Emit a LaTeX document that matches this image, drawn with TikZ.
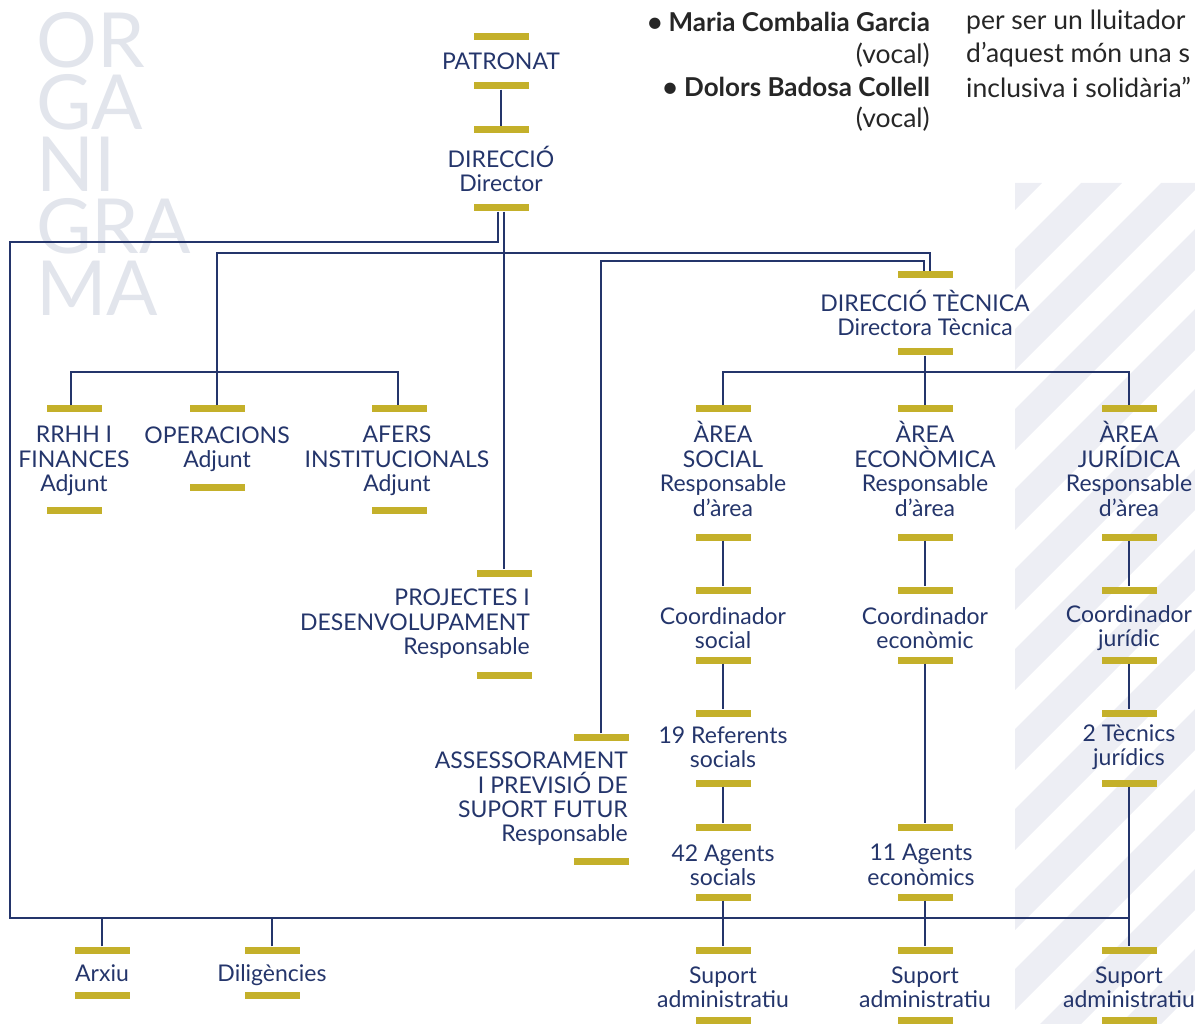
\documentclass[tikz,border=0pt]{standalone}
\usepackage{fontspec}
\setmainfont{Lato}
\usetikzlibrary{positioning}
\definecolor{navy}{HTML}{24356B}
\definecolor{gold}{HTML}{C4B02A}
\definecolor{haze}{HTML}{E2E5EC}
\definecolor{stripe}{HTML}{EDEEF4}
\definecolor{ink}{HTML}{262626}
\tikzset{
  goldbar/.style={fill=gold, minimum width=55pt, minimum height=7pt, inner sep=0pt},
  lbl/.style={text=navy, align=center, font=\fontsize{23}{24.4}\selectfont, inner sep=0pt},
  toptext/.style={text=ink, inner sep=0pt, font=\fontsize{26.5}{30}\selectfont},
  link/.style={draw=navy, line width=2.8pt},
}
\begin{document}
\begin{tikzpicture}[x=1pt, y=-1pt]
\useasboundingbox (0,0) rectangle (1195,1024);
% stripes
\begin{scope}
\clip (1015,183) rectangle (1195,1024);
\foreach \k in {0,...,14}
  \fill[stripe] (1001+80*\k,183) -- ++(41,0) -- ++(-900,900) -- ++(-41,0) -- cycle;
\end{scope}
\node[anchor=north west, text=haze, inner sep=0pt, align=left, font=\fontsize{76}{62}\selectfont] (wm) at (36,12) {OR\\GA\\NI\\GRA\\MA};
% top texts
\node[toptext, anchor=east, font=\fontsize{26}{30}\selectfont\bfseries] (nm1) at (930,22) {• Maria Combalia Garcia};
\node[toptext, anchor=east] (vc1) at (930,55) {(vocal)};
\node[toptext, anchor=east, font=\fontsize{26}{30}\selectfont\bfseries] (nm2) at (930,87) {• Dolors Badosa Collell};
\node[toptext, anchor=east] (vc2) at (930,119) {(vocal)};
\node[toptext, anchor=west] (q1) at (966,22) {per ser un lluitador};
\node[toptext, anchor=west] (q2) at (966,55) {d’aquest món una s};
\node[toptext, anchor=west] (q3) at (966,87) {inclusiva i solidària”};
% patronat, direccio
\node[goldbar] (patT) at (501,37) {};
\node[lbl] (pat) at (501,61) {PATRONAT};
\node[goldbar] (patB) at (501,86) {};
\node[goldbar] (dirT) at (501,130) {};
\node[lbl] (dir) at (501,169) {DIRECCIÓ\\Director};
\node[goldbar] (dirB) at (501,208) {};
% left group
\node[goldbar] (rrT) at (74,409) {};
\node[lbl] (rr) at (74,461) {RRHH I\\FINANCES\\Adjunt};
\node[goldbar] (rrB) at (74,510) {};
\node[goldbar] (opT) at (217,409) {};
\node[lbl] (op) at (217,449) {OPERACIONS\\Adjunt};
\node[goldbar] (opB) at (217,487) {};
\node[goldbar] (afT) at (399,409) {};
\node[lbl] (af) at (397,461) {AFERS\\INSTITUCIONALS\\Adjunt};
\node[goldbar] (afB) at (399,510) {};
\node[goldbar] (prT) at (504,573) {};
\node[lbl, align=right, anchor=east] (pr) at (530,624) {PROJECTES I\\DESENVOLUPAMENT\\Responsable};
\node[goldbar] (prB) at (504,675) {};
\node[goldbar] (asT) at (601,737) {};
\node[lbl, align=right, anchor=east] (as) at (628,799) {ASSESSORAMENT\\I PREVISIÓ DE\\SUPORT FUTUR\\Responsable};
\node[goldbar] (asB) at (601,861) {};
% direccio tecnica
\node[goldbar] (dtT) at (925,275) {};
\node[lbl] (dt) at (925,313) {DIRECCIÓ TÈCNICA\\Directora Tècnica};
\node[goldbar] (dtB) at (925,352) {};
% area social
\node[goldbar] (soT) at (723,409) {};
\node[lbl] (so) at (723,469) {ÀREA\\SOCIAL\\Responsable\\d’àrea};
\node[goldbar] (soB) at (723,537) {};
\node[goldbar] (scoT) at (723,590) {};
\node[lbl] (sco) at (723,628) {Coordinador\\social};
\node[goldbar] (scoB) at (723,660) {};
\node[goldbar] (refT) at (723,713) {};
\node[lbl] (ref) at (723,747) {19 Referents\\socials};
\node[goldbar] (refB) at (723,783) {};
\node[goldbar] (sagT) at (723,827) {};
\node[lbl] (sag) at (723,865) {42 Agents\\socials};
\node[goldbar] (sagB) at (723,897) {};
\node[goldbar] (ssuT) at (723,950) {};
\node[lbl] (ssu) at (723,987) {Suport\\administratiu};
\node[goldbar] (ssuB) at (723,1020) {};
% area economica
\node[goldbar] (ecT) at (925,409) {};
\node[lbl] (ec) at (925,469) {ÀREA\\ECONÒMICA\\Responsable\\d’àrea};
\node[goldbar] (ecB) at (925,537) {};
\node[goldbar] (ecoT) at (925,590) {};
\node[lbl] (eco) at (925,628) {Coordinador\\econòmic};
\node[goldbar] (ecoB) at (925,660) {};
\node[goldbar] (eagT) at (925,827) {};
\node[lbl] (eag) at (921,865) {11 Agents\\econòmics};
\node[goldbar] (eagB) at (925,897) {};
\node[goldbar] (esuT) at (925,950) {};
\node[lbl] (esu) at (925,987) {Suport\\administratiu};
\node[goldbar] (esuB) at (925,1020) {};
% area juridica
\node[goldbar] (juT) at (1129,409) {};
\node[lbl] (ju) at (1129,469) {ÀREA\\JURÍDICA\\Responsable\\d’àrea};
\node[goldbar] (juB) at (1129,537) {};
\node[goldbar] (jcoT) at (1129,590) {};
\node[lbl] (jco) at (1129,628) {Coordinador\\jurídic};
\node[goldbar] (jcoB) at (1129,660) {};
\node[goldbar] (tecT) at (1129,713) {};
\node[lbl] (tec) at (1129,747) {2 Tècnics\\jurídics};
\node[goldbar] (tecB) at (1129,783) {};
\node[goldbar] (jsuT) at (1129,950) {};
\node[lbl] (jsu) at (1129,987) {Suport\\administratiu};
\node[goldbar] (jsuB) at (1129,1020) {};
% arxiu, diligencies
\node[goldbar] (arT) at (102,950) {};
\node[lbl, anchor=base] (ar) at (102,981) {Arxiu};
\node[goldbar] (arB) at (102,995) {};
\node[goldbar] (diT) at (272,950) {};
\node[lbl, anchor=base] (di) at (272,981) {Diligències};
\node[goldbar] (diB) at (272,995) {};
% connectors
\coordinate (loopA) at (10,242);
\coordinate (busR) at (1129,918);
\coordinate (rowA) at (504,253);
\coordinate (rowB) at (601,261);
\coordinate (rowC) at (217,372);
\coordinate (rowD) at (925,372);
\draw[link] (patB) -- (dirT);
\draw[link] ([xshift=-3pt]dirB.south) |- (loopA) |- (busR);
\draw[link] ([xshift=3pt]dirB.south) -- (prT);
\draw[link] (opT.north) |- (rowA) -| ([xshift=5pt]dtT.north);
\draw[link] (asT.north) |- (rowB) -| ([xshift=-1pt]dtT.north);
\draw[link] ([xshift=-3pt]rrT.north) |- (rowC) -| ([xshift=-1pt]afT.north);
\draw[link] (dtB) -- (ecT);
\draw[link] (soT.north) |- (rowD) -| (juT.north);
\draw[link] (soB) -- (scoT);
\draw[link] (scoB) -- (refT);
\draw[link] (refB) -- (sagT);
\draw[link] (sagB) -- (ssuT);
\draw[link] (ecB) -- (ecoT);
\draw[link] (ecoB) -- (eagT);
\draw[link] (eagB) -- (esuT);
\draw[link] (juB) -- (jcoT);
\draw[link] (jcoB) -- (tecT);
\draw[link] (tecB) -- (jsuT);
\draw[link] (arT) -- (arT |- busR);
\draw[link] (diT) -- (diT |- busR);
\end{tikzpicture}
\end{document}
